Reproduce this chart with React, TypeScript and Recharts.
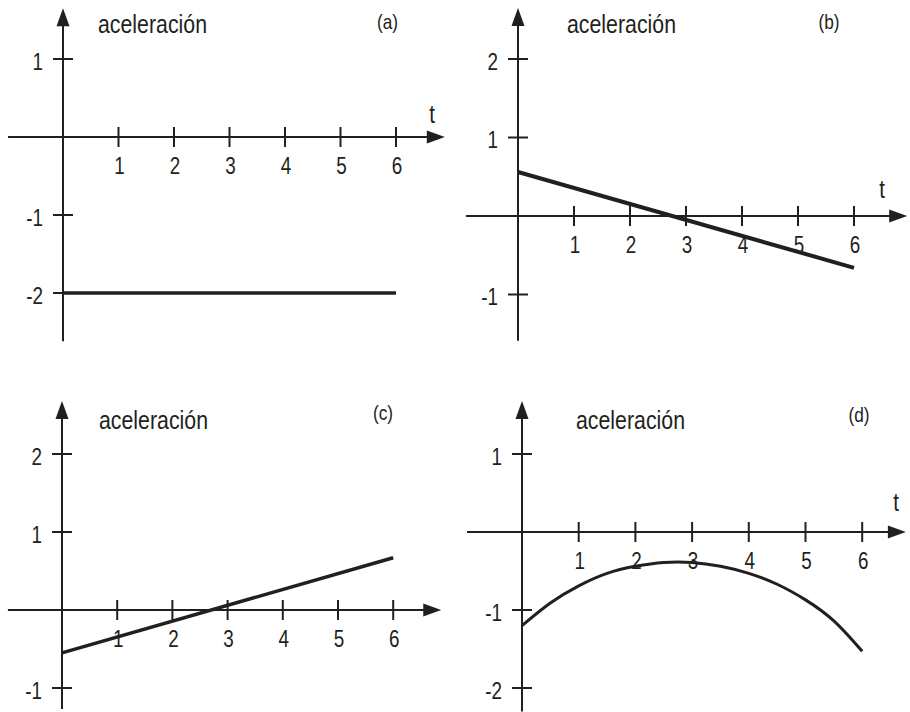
import React from "react";
import { LineChart, Line, XAxis, YAxis, ReferenceLine, ReferenceDot } from "recharts";

const W = 455;
const H = 356;
const INK = "#231f20";
const FONT = "'Liberation Sans', Arial, sans-serif";
const NARROW = 0.82; // squeeze Liberation Sans to a condensed look

// shared tick values along t
const timeTicks = [1, 2, 3, 4, 5, 6];

// (a) constant acceleration
const aTime = [0, 6];
const aAccel = [-2, -2];
const aYTicks = [1, -1, -2];

// (b) decreasing line
const bTime = [0, 6];
const bAccel = [0.56, -0.66];
const bYTicks = [2, 1, -1];

// (c) increasing line
const cTime = [0, 6];
const cAccel = [-0.55, 0.67];
const cYTicks = [2, 1, -1];

// (d) curve, read every half unit
const dTime = [0, 0.5, 1, 1.5, 2, 2.5, 3, 3.5, 4, 4.5, 5, 5.5, 6];
const dAccel = [-1.2, -0.91, -0.69, -0.53, -0.44, -0.39, -0.39, -0.44, -0.53, -0.67, -0.87, -1.14, -1.53];
const dYTicks = [1, -1, -2];

const panelTags = ["(a)", "(b)", "(c)", "(d)"];
const titleText = "aceleración";
const timeLabel = "t";

type Layout = {
  left: number;
  top: number;
  ox: number;
  oy: number;
  ux: number;
  uy: number;
  xDom: [number, number];
  yDom: [number, number];
  xAxis: [number, number];
  yAxis: [number, number];
  title: [number, number];
  tag: [number, number];
  tLabel?: [number, number];
  width: number;
  curve: "linear" | "natural";
};

const layouts: Layout[] = [
  { left: 0, top: 0, ox: 63, oy: 137, ux: 55.5, uy: 78, xDom: [-1, 7], yDom: [-2.7, 1.7], xAxis: [-0.99, 6.88], yAxis: [-2.62, 1.65], title: [98, 33], tag: [387.5, 28.5], tLabel: [432, 123], width: 3.5, curve: "linear" },
  { left: 455, top: 0, ox: 63, oy: 216, ux: 56, uy: 78.5, xDom: [-1, 7], yDom: [-1.7, 2.7], xAxis: [-0.93, 6.95], yAxis: [-1.59, 2.65], title: [112, 33], tag: [374, 28.5], tLabel: [427, 198], width: 4, curve: "linear" },
  { left: 0, top: 356, ox: 62, oy: 254, ux: 55.2, uy: 78, xDom: [-1, 7], yDom: [-1.3, 2.9], xAxis: [-0.98, 6.87], yAxis: [-1.27, 2.68], title: [99, 73], tag: [383, 63.5], width: 3.5, curve: "linear" },
  { left: 455, top: 356, ox: 67, oy: 176, ux: 56.7, uy: 78, xDom: [-1, 6.8], yDom: [-2.3, 1.9], xAxis: [-0.97, 6.77], yAxis: [-2.3, 1.68], title: [121, 73], tag: [404, 66], tLabel: [441, 155], width: 3, curve: "natural" },
];

function NarrowText({ x, y, size, anchor = "start", children }: { x: number; y: number; size: number; anchor?: "start" | "middle" | "end"; children: React.ReactNode }) {
  return (
    <text
      transform={`translate(${x},${y}) scale(${NARROW},1)`}
      textAnchor={anchor}
      fontSize={size}
      fontFamily={FONT}
      fill={INK}
    >
      {children}
    </text>
  );
}

const arrowShape = (p: any) => {
  const { x1, y1, x2, y2 } = p;
  const len = Math.hypot(x2 - x1, y2 - y1) || 1;
  const dx = (x2 - x1) / len;
  const dy = (y2 - y1) / len;
  const L = 18;
  const hw = 6.5;
  const bx = x2 - dx * L;
  const by = y2 - dy * L;
  return (
    <g>
      <line x1={x1} y1={y1} x2={bx + dx * 3} y2={by + dy * 3} stroke={INK} strokeWidth={2} />
      <polygon points={`${x2},${y2} ${bx - dy * hw},${by + dx * hw} ${bx + dy * hw},${by - dx * hw}`} fill={INK} />
    </g>
  );
};

const xTickShape = (t: number) => (p: any) => (
  <g>
    <line x1={p.cx} y1={p.cy - 10} x2={p.cx} y2={p.cy + 10} stroke={INK} strokeWidth={2} />
    <NarrowText x={p.cx + 1} y={p.cy + 37} size={23} anchor="middle">
      {t}
    </NarrowText>
  </g>
);

const yTickShape = (v: number) => (p: any) => (
  <g>
    <line x1={p.cx - 10} y1={p.cy} x2={p.cx + 10} y2={p.cy} stroke={INK} strokeWidth={2} />
    <NarrowText x={p.cx - 20} y={p.cy + 10.5} size={23} anchor="end">
      {v}
    </NarrowText>
  </g>
);

function Panel({ layout, time, accel, yTicks, tag }: { layout: Layout; time: number[]; accel: number[]; yTicks: number[]; tag: string }) {
  const { ox, oy, ux, uy, xDom, yDom } = layout;
  const ml = ox + xDom[0] * ux;
  const mr = W - ml - (xDom[1] - xDom[0]) * ux;
  const mt = oy - yDom[1] * uy;
  const mb = H - mt - (yDom[1] - yDom[0]) * uy;
  const data = time.map((t, i) => ({ t, acc: accel[i] }));

  return (
    <div style={{ position: "absolute", left: layout.left, top: layout.top, width: W, height: H }}>
      <LineChart width={W} height={H} data={data} margin={{ left: ml, right: mr, top: mt, bottom: mb }}>
        <XAxis type="number" dataKey="t" domain={xDom} allowDataOverflow hide />
        <YAxis type="number" domain={yDom} allowDataOverflow hide />
        <ReferenceLine
          segment={[{ x: layout.xAxis[0], y: 0 }, { x: layout.xAxis[1], y: 0 }]}
          shape={arrowShape}
          ifOverflow="visible"
        />
        <ReferenceLine
          segment={[{ x: 0, y: layout.yAxis[0] }, { x: 0, y: layout.yAxis[1] }]}
          shape={arrowShape}
          ifOverflow="visible"
        />
        {timeTicks.map((t) => (
          <ReferenceDot key={`x${t}`} x={t} y={0} ifOverflow="visible" shape={xTickShape(t)} />
        ))}
        {yTicks.map((v) => (
          <ReferenceDot key={`y${v}`} x={0} y={v} ifOverflow="visible" shape={yTickShape(v)} />
        ))}
        <Line
          type={layout.curve}
          dataKey="acc"
          stroke={INK}
          strokeWidth={layout.width}
          dot={false}
          activeDot={false}
          isAnimationActive={false}
        />
        <NarrowText x={layout.title[0]} y={layout.title[1]} size={26}>
          {titleText}
        </NarrowText>
        <NarrowText x={layout.tag[0]} y={layout.tag[1]} size={21} anchor="middle">
          {tag}
        </NarrowText>
        {layout.tLabel && (
          <NarrowText x={layout.tLabel[0]} y={layout.tLabel[1]} size={25} anchor="middle">
            {timeLabel}
          </NarrowText>
        )}
      </LineChart>
    </div>
  );
}

export default function App() {
  return (
    <div style={{ position: "absolute", left: 0, top: 0, width: 910, height: 712, background: "#fff" }}>
      <Panel layout={layouts[0]} time={aTime} accel={aAccel} yTicks={aYTicks} tag={panelTags[0]} />
      <Panel layout={layouts[1]} time={bTime} accel={bAccel} yTicks={bYTicks} tag={panelTags[1]} />
      <Panel layout={layouts[2]} time={cTime} accel={cAccel} yTicks={cYTicks} tag={panelTags[2]} />
      <Panel layout={layouts[3]} time={dTime} accel={dAccel} yTicks={dYTicks} tag={panelTags[3]} />
    </div>
  );
}
